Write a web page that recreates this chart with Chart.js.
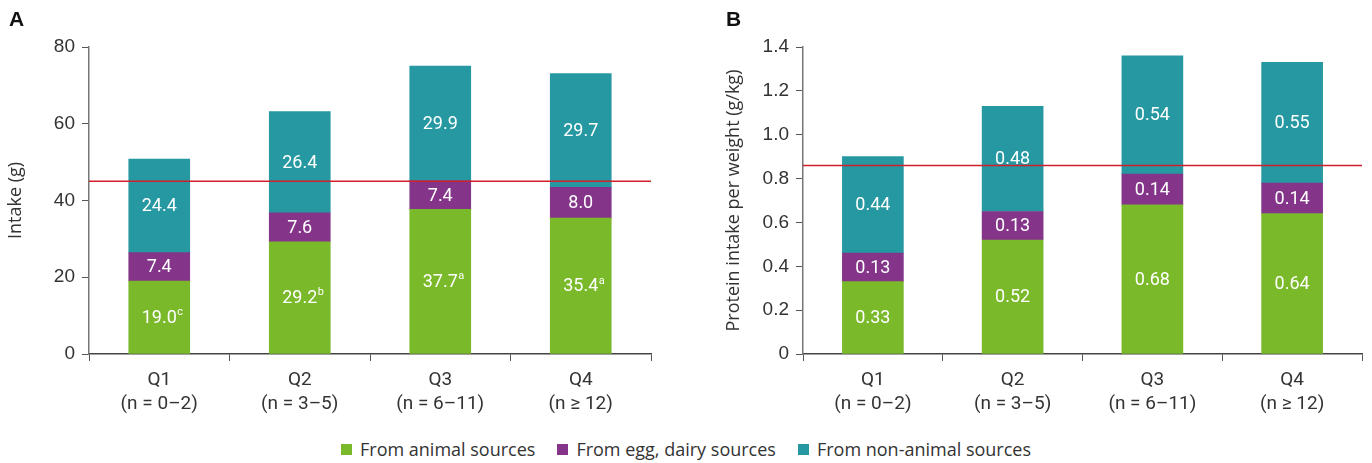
<!DOCTYPE html>
<html>
<head>
<meta charset="utf-8">
<script src="https://cdn.jsdelivr.net/npm/chart.js@4/dist/chart.umd.min.js"></script>
<style>
  html, body { margin: 0; padding: 0; background: #fff; }
  #wrap { position: relative; width: 1372px; height: 463px; overflow: hidden; }
  canvas { position: absolute; top: 0; }
  .panel { position: absolute; top: 7px; font: bold 21px "Liberation Sans", Arial, sans-serif; color: #111; }
  #legend { position: absolute; left: 0; width: 1372px; top: 437px; display: flex; justify-content: center; align-items: center;
            font: 18px "Open Sans", sans-serif; color: #333; }
  .item { display: flex; align-items: center; margin: 0 11px; }
  .sw { width: 11px; height: 11px; margin-right: 8px; }
</style>
</head>
<body>
<div id="wrap">
  <canvas id="cA" width="700" height="425" style="left:0;width:700px;height:425px"></canvas>
  <canvas id="cB" width="672" height="425" style="left:700px;width:672px;height:425px"></canvas>
  <div class="panel" style="left:9px">A</div>
  <div class="panel" style="left:726px">B</div>
  <div id="legend"></div>
</div>
<script>
// ---- data ----
const categories = [['Q1', '(n = 0–2)'], ['Q2', '(n = 3–5)'], ['Q3', '(n = 6–11)'], ['Q4', '(n ≥ 12)']];
const seriesNames = ['From animal sources', 'From egg, dairy sources', 'From non-animal sources'];

const animalA = [19.0, 29.2, 37.7, 35.4];
const eggDairyA = [7.4, 7.6, 7.4, 8.0];
const nonAnimalA = [24.4, 26.4, 29.9, 29.7];
const animalSupA = ['c', 'b', 'a', 'a'];
const refLineA = 45;
const yTicksA = { min: 0, max: 80, step: 20 };

const animalB = [0.33, 0.52, 0.68, 0.64];
const eggDairyB = [0.13, 0.13, 0.14, 0.14];
const nonAnimalB = [0.44, 0.48, 0.54, 0.55];
const refLineB = 0.86;
const yTicksB = { min: 0, max: 1.4, step: 0.2 };

// ---- styles ----
const COLORS = ['#7ab929', '#84358a', '#2598a2'];
const AXIS = '#555';
const TEXT = '#333';

// legend (HTML)
const lg = document.getElementById('legend');
seriesNames.forEach((n, i) => {
  const it = document.createElement('div'); it.className = 'item';
  const sw = document.createElement('div'); sw.className = 'sw'; sw.style.background = COLORS[i];
  const tx = document.createElement('span'); tx.textContent = n;
  it.appendChild(sw); it.appendChild(tx); lg.appendChild(it);
});

function makeChart(id, series, decimals, sups, refVal, yt, yTitle, yWidth, padRight, titlePad) {
  const labelPlugin = {
    id: 'segLabels',
    afterDatasetsDraw(chart) {
      const ctx = chart.ctx;
      ctx.save();
      ctx.fillStyle = '#fff';
      ctx.textBaseline = 'middle';
      chart.data.datasets.forEach((ds, di) => {
        const meta = chart.getDatasetMeta(di);
        meta.data.forEach((bar, i) => {
          const cy = (bar.y + bar.base) / 2;
          const txt = ds.data[i].toFixed(decimals);
          ctx.font = '18px Roboto, sans-serif';
          ctx.textAlign = 'center';
          ctx.fillText(txt, bar.x, cy + 1);
          if (di === 0 && sups) {
            const w = ctx.measureText(txt).width;
            ctx.font = '11px Roboto, sans-serif';
            ctx.textAlign = 'left';
            ctx.fillText(sups[i], bar.x + w / 2 + 0.5, cy - 5);
          }
        });
      });
      ctx.restore();
    },
    afterDraw(chart) {
      const ctx = chart.ctx;
      const y = chart.scales.y.getPixelForValue(refVal);
      ctx.save();
      ctx.strokeStyle = '#d0202c';
      ctx.lineWidth = 1.5;
      ctx.beginPath();
      ctx.moveTo(chart.chartArea.left, y);
      ctx.lineTo(chart.chartArea.right, y);
      ctx.stroke();
      ctx.restore();
    }
  };
  return new Chart(document.getElementById(id), {
    type: 'bar',
    data: {
      labels: categories,
      datasets: series.map((d, i) => ({
        label: seriesNames[i], data: d, backgroundColor: COLORS[i],
        borderWidth: 0, barThickness: 61
      }))
    },
    options: {
      responsive: false, animation: false, devicePixelRatio: 1,
      layout: { padding: { top: 47, right: padRight, bottom: 0, left: 0 } },
      plugins: { legend: { display: false }, tooltip: { enabled: false } },
      scales: {
        x: {
          stacked: true,
          grid: { display: true, drawOnChartArea: false, drawTicks: true, tickLength: 7, color: AXIS, offset: true },
          border: { display: true, color: '#444', width: 1.5 },
          ticks: { color: TEXT, font: { family: 'Roboto', size: 19, lineHeight: 1.26 }, padding: 7, maxRotation: 0 },
          afterFit(s) { s.height = 71; }
        },
        y: {
          stacked: true, min: yt.min, max: yt.max,
          grid: { display: true, drawOnChartArea: false, drawTicks: true, tickLength: 7, color: AXIS },
          border: { display: true, color: '#777', width: 1.5 },
          ticks: {
            stepSize: yt.step, color: TEXT, padding: 7,
            font: { family: '"Liberation Sans", Arial', size: 19 },
            callback: v => (v === 0 ? '0' : (decimals === 2 ? Number(v).toFixed(1) : String(Math.round(v))))
          },
          title: { display: true, text: yTitle, color: TEXT, font: { family: '"Open Sans"', size: 18 }, padding: { top: titlePad, bottom: 0 } },
          afterFit(s) { s.width = yWidth; }
        }
      }
    },
    plugins: [labelPlugin]
  });
}

makeChart('cA', [animalA, eggDairyA, nonAnimalA], 1, animalSupA, refLineA, yTicksA, 'Intake (g)', 89, 49, 5);
makeChart('cB', [animalB, eggDairyB, nonAnimalB], 2, null, refLineB, yTicksB, 'Protein intake per weight (g/kg)', 103, 10, 23);
</script>
</body>
</html>
